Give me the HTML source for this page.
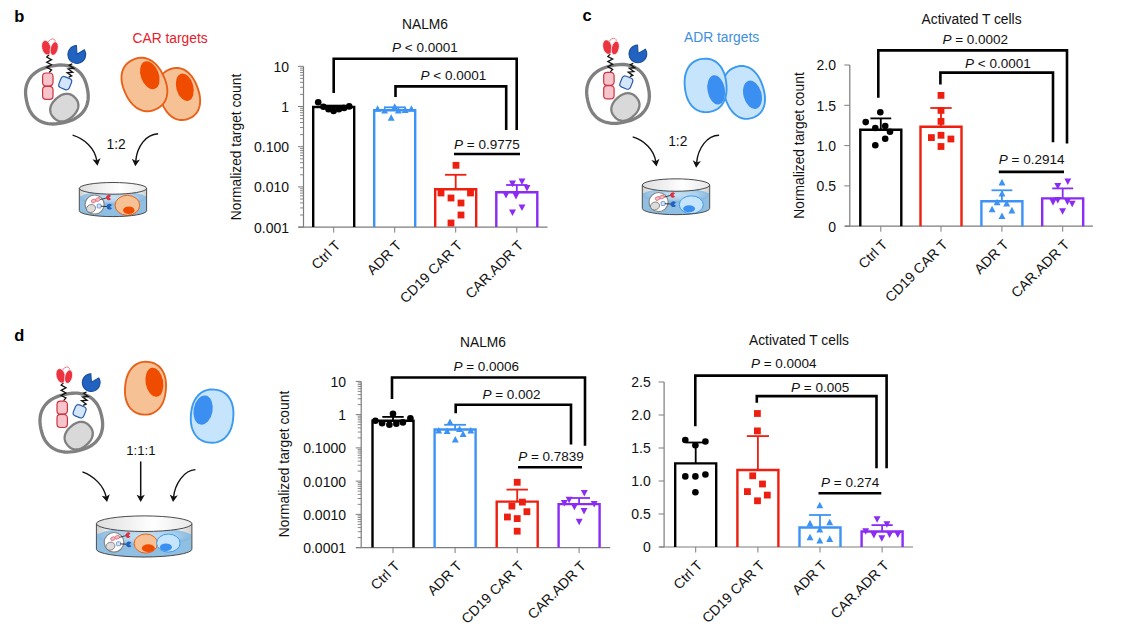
<!DOCTYPE html>
<html><head><meta charset="utf-8"><style>
html,body{margin:0;padding:0;background:#fff;overflow:hidden;width:1123px;height:631px;}
svg{display:block;font-family:"Liberation Sans", sans-serif;}
</style></head><body>
<svg width="1123" height="631" viewBox="0 0 1123 631">
<rect width="1123" height="631" fill="#fff"/>
<line x1="303.50" y1="66.30" x2="303.50" y2="227.10" stroke="#7c7c7c" stroke-width="1.2" />
<line x1="298.50" y1="227.10" x2="547.50" y2="227.10" stroke="#7c7c7c" stroke-width="1.2" />
<line x1="298.00" y1="66.30" x2="303.50" y2="66.30" stroke="#7c7c7c" stroke-width="1.0" />
<text x="289.00" y="71.70" font-size="14" text-anchor="end" fill="#111" >10</text>
<line x1="300.00" y1="94.40" x2="303.50" y2="94.40" stroke="#7c7c7c" stroke-width="0.9" />
<line x1="300.00" y1="87.32" x2="303.50" y2="87.32" stroke="#7c7c7c" stroke-width="0.9" />
<line x1="300.00" y1="82.30" x2="303.50" y2="82.30" stroke="#7c7c7c" stroke-width="0.9" />
<line x1="300.00" y1="78.40" x2="303.50" y2="78.40" stroke="#7c7c7c" stroke-width="0.9" />
<line x1="300.00" y1="75.22" x2="303.50" y2="75.22" stroke="#7c7c7c" stroke-width="0.9" />
<line x1="300.00" y1="72.53" x2="303.50" y2="72.53" stroke="#7c7c7c" stroke-width="0.9" />
<line x1="300.00" y1="70.20" x2="303.50" y2="70.20" stroke="#7c7c7c" stroke-width="0.9" />
<line x1="300.00" y1="68.14" x2="303.50" y2="68.14" stroke="#7c7c7c" stroke-width="0.9" />
<line x1="298.00" y1="106.50" x2="303.50" y2="106.50" stroke="#7c7c7c" stroke-width="1.0" />
<text x="289.00" y="111.90" font-size="14" text-anchor="end" fill="#111" >1</text>
<line x1="300.00" y1="134.60" x2="303.50" y2="134.60" stroke="#7c7c7c" stroke-width="0.9" />
<line x1="300.00" y1="127.52" x2="303.50" y2="127.52" stroke="#7c7c7c" stroke-width="0.9" />
<line x1="300.00" y1="122.50" x2="303.50" y2="122.50" stroke="#7c7c7c" stroke-width="0.9" />
<line x1="300.00" y1="118.60" x2="303.50" y2="118.60" stroke="#7c7c7c" stroke-width="0.9" />
<line x1="300.00" y1="115.42" x2="303.50" y2="115.42" stroke="#7c7c7c" stroke-width="0.9" />
<line x1="300.00" y1="112.73" x2="303.50" y2="112.73" stroke="#7c7c7c" stroke-width="0.9" />
<line x1="300.00" y1="110.40" x2="303.50" y2="110.40" stroke="#7c7c7c" stroke-width="0.9" />
<line x1="300.00" y1="108.34" x2="303.50" y2="108.34" stroke="#7c7c7c" stroke-width="0.9" />
<line x1="298.00" y1="146.70" x2="303.50" y2="146.70" stroke="#7c7c7c" stroke-width="1.0" />
<text x="289.00" y="152.10" font-size="14" text-anchor="end" fill="#111" >0.100</text>
<line x1="300.00" y1="174.80" x2="303.50" y2="174.80" stroke="#7c7c7c" stroke-width="0.9" />
<line x1="300.00" y1="167.72" x2="303.50" y2="167.72" stroke="#7c7c7c" stroke-width="0.9" />
<line x1="300.00" y1="162.70" x2="303.50" y2="162.70" stroke="#7c7c7c" stroke-width="0.9" />
<line x1="300.00" y1="158.80" x2="303.50" y2="158.80" stroke="#7c7c7c" stroke-width="0.9" />
<line x1="300.00" y1="155.62" x2="303.50" y2="155.62" stroke="#7c7c7c" stroke-width="0.9" />
<line x1="300.00" y1="152.93" x2="303.50" y2="152.93" stroke="#7c7c7c" stroke-width="0.9" />
<line x1="300.00" y1="150.60" x2="303.50" y2="150.60" stroke="#7c7c7c" stroke-width="0.9" />
<line x1="300.00" y1="148.54" x2="303.50" y2="148.54" stroke="#7c7c7c" stroke-width="0.9" />
<line x1="298.00" y1="186.90" x2="303.50" y2="186.90" stroke="#7c7c7c" stroke-width="1.0" />
<text x="289.00" y="192.30" font-size="14" text-anchor="end" fill="#111" >0.010</text>
<line x1="300.00" y1="215.00" x2="303.50" y2="215.00" stroke="#7c7c7c" stroke-width="0.9" />
<line x1="300.00" y1="207.92" x2="303.50" y2="207.92" stroke="#7c7c7c" stroke-width="0.9" />
<line x1="300.00" y1="202.90" x2="303.50" y2="202.90" stroke="#7c7c7c" stroke-width="0.9" />
<line x1="300.00" y1="199.00" x2="303.50" y2="199.00" stroke="#7c7c7c" stroke-width="0.9" />
<line x1="300.00" y1="195.82" x2="303.50" y2="195.82" stroke="#7c7c7c" stroke-width="0.9" />
<line x1="300.00" y1="193.13" x2="303.50" y2="193.13" stroke="#7c7c7c" stroke-width="0.9" />
<line x1="300.00" y1="190.80" x2="303.50" y2="190.80" stroke="#7c7c7c" stroke-width="0.9" />
<line x1="300.00" y1="188.74" x2="303.50" y2="188.74" stroke="#7c7c7c" stroke-width="0.9" />
<line x1="298.00" y1="227.10" x2="303.50" y2="227.10" stroke="#7c7c7c" stroke-width="1.0" />
<text x="289.00" y="232.50" font-size="14" text-anchor="end" fill="#111" >0.001</text>
<line x1="333.70" y1="227.10" x2="333.70" y2="232.60" stroke="#7c7c7c" stroke-width="1.0" />
<line x1="394.70" y1="227.10" x2="394.70" y2="232.60" stroke="#7c7c7c" stroke-width="1.0" />
<line x1="455.70" y1="227.10" x2="455.70" y2="232.60" stroke="#7c7c7c" stroke-width="1.0" />
<line x1="516.80" y1="227.10" x2="516.80" y2="232.60" stroke="#7c7c7c" stroke-width="1.0" />
<text x="241.00" y="147.00" font-size="13.8" text-anchor="middle" fill="#111" transform="rotate(-90 241.00 147.00)">Normalized target count</text>
<text x="425.00" y="29.40" font-size="13.8" text-anchor="middle" fill="#111" >NALM6</text>
<text x="341.30" y="246.30" font-size="14" text-anchor="end" fill="#111" transform="rotate(-45 341.30 246.30)">Ctrl T</text>
<text x="402.30" y="246.30" font-size="14" text-anchor="end" fill="#111" transform="rotate(-45 402.30 246.30)">ADR T</text>
<text x="463.30" y="246.30" font-size="14" text-anchor="end" fill="#111" transform="rotate(-45 463.30 246.30)">CD19 CAR T</text>
<text x="524.40" y="246.30" font-size="14" text-anchor="end" fill="#111" transform="rotate(-45 524.40 246.30)">CAR.ADR T</text>
<polyline points="333.70,93.00 333.70,58.80 516.70,58.80 516.70,130.00" fill="none" stroke="#000" stroke-width="2.6" stroke-linejoin="miter"/>
<polyline points="395.50,97.00 395.50,86.40 506.20,86.40 506.20,130.00" fill="none" stroke="#000" stroke-width="2.6" stroke-linejoin="miter"/>
<line x1="454.00" y1="154.00" x2="520.00" y2="154.00" stroke="#000" stroke-width="2.6" />
<text x="392.00" y="51.60" font-size="13.5" fill="#111"><tspan font-style="italic">P</tspan> &lt; 0.0001</text>
<text x="420.50" y="79.80" font-size="13.5" fill="#111"><tspan font-style="italic">P</tspan> &lt; 0.0001</text>
<text x="454.00" y="148.70" font-size="13.5" fill="#111"><tspan font-style="italic">P</tspan> = 0.9775</text>
<polyline points="313.20,227.10 313.20,107.00 354.20,107.00 354.20,227.10" fill="none" stroke="#000000" stroke-width="2.4" stroke-linejoin="miter"/>
<line x1="333.70" y1="107.00" x2="333.70" y2="105.60" stroke="#000000" stroke-width="1.8" />
<line x1="323.70" y1="105.60" x2="343.70" y2="105.60" stroke="#000000" stroke-width="1.8" />
<polyline points="374.20,227.10 374.20,110.20 415.20,110.20 415.20,227.10" fill="none" stroke="#3d93f4" stroke-width="2.4" stroke-linejoin="miter"/>
<polyline points="435.20,227.10 435.20,189.30 476.20,189.30 476.20,227.10" fill="none" stroke="#ee1e10" stroke-width="2.4" stroke-linejoin="miter"/>
<polyline points="496.30,227.10 496.30,192.20 537.30,192.20 537.30,227.10" fill="none" stroke="#8a2cf4" stroke-width="2.4" stroke-linejoin="miter"/>
<circle cx="318.20" cy="102.30" r="3.30" fill="#000000"/>
<circle cx="323.40" cy="106.80" r="3.30" fill="#000000"/>
<circle cx="328.50" cy="109.20" r="3.30" fill="#000000"/>
<circle cx="333.60" cy="111.00" r="3.30" fill="#000000"/>
<circle cx="338.90" cy="109.20" r="3.30" fill="#000000"/>
<circle cx="344.10" cy="107.90" r="3.30" fill="#000000"/>
<circle cx="349.20" cy="106.40" r="3.30" fill="#000000"/>
<line x1="394.70" y1="110.20" x2="394.70" y2="107.30" stroke="#3d93f4" stroke-width="1.8" />
<line x1="384.00" y1="107.30" x2="405.40" y2="107.30" stroke="#3d93f4" stroke-width="1.8" />
<polygon points="374.15,111.70 381.05,111.70 377.60,105.15" fill="#3d93f4"/>
<polygon points="381.15,113.51 388.05,113.51 384.60,106.95" fill="#3d93f4"/>
<polygon points="387.75,120.70 394.65,120.70 391.20,114.15" fill="#3d93f4"/>
<polygon points="391.25,109.70 398.15,109.70 394.70,103.15" fill="#3d93f4"/>
<polygon points="394.95,113.51 401.85,113.51 398.40,106.95" fill="#3d93f4"/>
<polygon points="401.75,112.91 408.65,112.91 405.20,106.35" fill="#3d93f4"/>
<polygon points="407.95,111.70 414.85,111.70 411.40,105.15" fill="#3d93f4"/>
<line x1="455.70" y1="189.30" x2="455.70" y2="174.80" stroke="#ee1e10" stroke-width="1.8" />
<line x1="445.00" y1="174.80" x2="466.40" y2="174.80" stroke="#ee1e10" stroke-width="1.8" />
<rect x="452.60" y="161.90" width="6.80" height="6.80" fill="#ee1e10"/>
<rect x="437.60" y="189.60" width="6.80" height="6.80" fill="#ee1e10"/>
<rect x="467.10" y="189.60" width="6.80" height="6.80" fill="#ee1e10"/>
<rect x="447.60" y="194.60" width="6.80" height="6.80" fill="#ee1e10"/>
<rect x="457.60" y="199.60" width="6.80" height="6.80" fill="#ee1e10"/>
<rect x="457.60" y="211.60" width="6.80" height="6.80" fill="#ee1e10"/>
<rect x="447.60" y="219.60" width="6.80" height="6.80" fill="#ee1e10"/>
<line x1="516.80" y1="192.20" x2="516.80" y2="185.00" stroke="#8a2cf4" stroke-width="1.8" />
<line x1="506.10" y1="185.00" x2="527.50" y2="185.00" stroke="#8a2cf4" stroke-width="1.8" />
<polygon points="509.05,180.59 515.95,180.59 512.50,187.15" fill="#8a2cf4"/>
<polygon points="518.55,178.40 525.45,178.40 522.00,184.95" fill="#8a2cf4"/>
<polygon points="523.55,184.90 530.45,184.90 527.00,191.45" fill="#8a2cf4"/>
<polygon points="502.55,191.90 509.45,191.90 506.00,198.45" fill="#8a2cf4"/>
<polygon points="512.55,192.90 519.45,192.90 516.00,199.45" fill="#8a2cf4"/>
<polygon points="518.55,204.40 525.45,204.40 522.00,210.95" fill="#8a2cf4"/>
<polygon points="509.05,209.40 515.95,209.40 512.50,215.95" fill="#8a2cf4"/>
<line x1="849.80" y1="65.00" x2="849.80" y2="226.20" stroke="#7c7c7c" stroke-width="1.2" />
<line x1="845.00" y1="226.20" x2="1093.00" y2="226.20" stroke="#7c7c7c" stroke-width="1.2" />
<line x1="844.30" y1="65.00" x2="849.80" y2="65.00" stroke="#7c7c7c" stroke-width="1.0" />
<text x="836.00" y="70.40" font-size="14" text-anchor="end" fill="#111" >2.0</text>
<line x1="844.30" y1="105.30" x2="849.80" y2="105.30" stroke="#7c7c7c" stroke-width="1.0" />
<text x="836.00" y="110.70" font-size="14" text-anchor="end" fill="#111" >1.5</text>
<line x1="844.30" y1="145.60" x2="849.80" y2="145.60" stroke="#7c7c7c" stroke-width="1.0" />
<text x="836.00" y="151.00" font-size="14" text-anchor="end" fill="#111" >1.0</text>
<line x1="844.30" y1="185.90" x2="849.80" y2="185.90" stroke="#7c7c7c" stroke-width="1.0" />
<text x="836.00" y="191.30" font-size="14" text-anchor="end" fill="#111" >0.5</text>
<line x1="844.30" y1="226.20" x2="849.80" y2="226.20" stroke="#7c7c7c" stroke-width="1.0" />
<text x="836.00" y="231.60" font-size="14" text-anchor="end" fill="#111" >0</text>
<line x1="880.80" y1="226.20" x2="880.80" y2="231.70" stroke="#7c7c7c" stroke-width="1.0" />
<line x1="941.00" y1="226.20" x2="941.00" y2="231.70" stroke="#7c7c7c" stroke-width="1.0" />
<line x1="1001.90" y1="226.20" x2="1001.90" y2="231.70" stroke="#7c7c7c" stroke-width="1.0" />
<line x1="1062.70" y1="226.20" x2="1062.70" y2="231.70" stroke="#7c7c7c" stroke-width="1.0" />
<text x="804.00" y="145.50" font-size="13.8" text-anchor="middle" fill="#111" transform="rotate(-90 804.00 145.50)">Normalized target count</text>
<text x="971.60" y="24.20" font-size="13.8" text-anchor="middle" fill="#111" >Activated T cells</text>
<text x="888.40" y="245.40" font-size="14" text-anchor="end" fill="#111" transform="rotate(-45 888.40 245.40)">Ctrl T</text>
<text x="948.60" y="245.40" font-size="14" text-anchor="end" fill="#111" transform="rotate(-45 948.60 245.40)">CD19 CAR T</text>
<text x="1009.50" y="245.40" font-size="14" text-anchor="end" fill="#111" transform="rotate(-45 1009.50 245.40)">ADR T</text>
<text x="1070.30" y="245.40" font-size="14" text-anchor="end" fill="#111" transform="rotate(-45 1070.30 245.40)">CAR.ADR T</text>
<polyline points="878.30,97.80 878.30,50.40 1067.00,50.40 1067.00,143.50" fill="none" stroke="#000" stroke-width="2.6" stroke-linejoin="miter"/>
<polyline points="940.40,84.50 940.40,72.60 1053.00,72.60 1053.00,142.20" fill="none" stroke="#000" stroke-width="2.6" stroke-linejoin="miter"/>
<line x1="998.80" y1="171.90" x2="1064.00" y2="171.90" stroke="#000" stroke-width="2.6" />
<text x="942.40" y="44.20" font-size="13.5" fill="#111"><tspan font-style="italic">P</tspan> = 0.0002</text>
<text x="965.00" y="68.40" font-size="13.5" fill="#111"><tspan font-style="italic">P</tspan> &lt; 0.0001</text>
<text x="998.80" y="163.60" font-size="13.5" fill="#111"><tspan font-style="italic">P</tspan> = 0.2914</text>
<polyline points="860.30,226.20 860.30,129.80 901.30,129.80 901.30,226.20" fill="none" stroke="#000000" stroke-width="2.4" stroke-linejoin="miter"/>
<polyline points="920.50,226.20 920.50,126.80 961.50,126.80 961.50,226.20" fill="none" stroke="#ee1e10" stroke-width="2.4" stroke-linejoin="miter"/>
<polyline points="981.40,226.20 981.40,201.20 1022.40,201.20 1022.40,226.20" fill="none" stroke="#3d93f4" stroke-width="2.4" stroke-linejoin="miter"/>
<polyline points="1042.20,226.20 1042.20,198.40 1083.20,198.40 1083.20,226.20" fill="none" stroke="#8a2cf4" stroke-width="2.4" stroke-linejoin="miter"/>
<line x1="880.80" y1="129.80" x2="880.80" y2="118.40" stroke="#000000" stroke-width="1.8" />
<line x1="870.40" y1="118.40" x2="891.20" y2="118.40" stroke="#000000" stroke-width="1.8" />
<circle cx="880.30" cy="112.30" r="3.30" fill="#000000"/>
<circle cx="865.70" cy="122.10" r="3.30" fill="#000000"/>
<circle cx="875.30" cy="128.00" r="3.30" fill="#000000"/>
<circle cx="885.20" cy="126.00" r="3.30" fill="#000000"/>
<circle cx="890.00" cy="131.70" r="3.30" fill="#000000"/>
<circle cx="885.20" cy="138.70" r="3.30" fill="#000000"/>
<circle cx="875.30" cy="145.20" r="3.30" fill="#000000"/>
<line x1="941.00" y1="126.80" x2="941.00" y2="108.00" stroke="#ee1e10" stroke-width="1.8" />
<line x1="930.30" y1="108.00" x2="951.70" y2="108.00" stroke="#ee1e10" stroke-width="1.8" />
<rect x="937.60" y="92.00" width="6.80" height="6.80" fill="#ee1e10"/>
<rect x="937.60" y="107.00" width="6.80" height="6.80" fill="#ee1e10"/>
<rect x="937.60" y="118.00" width="6.80" height="6.80" fill="#ee1e10"/>
<rect x="937.60" y="131.90" width="6.80" height="6.80" fill="#ee1e10"/>
<rect x="928.00" y="134.20" width="6.80" height="6.80" fill="#ee1e10"/>
<rect x="947.50" y="135.60" width="6.80" height="6.80" fill="#ee1e10"/>
<rect x="937.60" y="143.10" width="6.80" height="6.80" fill="#ee1e10"/>
<line x1="1001.90" y1="201.20" x2="1001.90" y2="190.30" stroke="#3d93f4" stroke-width="1.8" />
<line x1="991.50" y1="190.30" x2="1012.30" y2="190.30" stroke="#3d93f4" stroke-width="1.8" />
<polygon points="998.55,185.41 1005.45,185.41 1002.00,178.85" fill="#3d93f4"/>
<polygon points="998.55,196.50 1005.45,196.50 1002.00,189.95" fill="#3d93f4"/>
<polygon points="993.65,205.30 1000.55,205.30 997.10,198.75" fill="#3d93f4"/>
<polygon points="1003.25,206.41 1010.15,206.41 1006.70,199.85" fill="#3d93f4"/>
<polygon points="988.65,212.30 995.55,212.30 992.10,205.75" fill="#3d93f4"/>
<polygon points="1008.45,213.41 1015.35,213.41 1011.90,206.85" fill="#3d93f4"/>
<polygon points="998.55,219.00 1005.45,219.00 1002.00,212.45" fill="#3d93f4"/>
<line x1="1062.70" y1="198.40" x2="1062.70" y2="188.40" stroke="#8a2cf4" stroke-width="1.8" />
<line x1="1052.20" y1="188.40" x2="1073.20" y2="188.40" stroke="#8a2cf4" stroke-width="1.8" />
<polygon points="1064.35,178.50 1071.25,178.50 1067.80,185.05" fill="#8a2cf4"/>
<polygon points="1054.35,182.90 1061.25,182.90 1057.80,189.45" fill="#8a2cf4"/>
<polygon points="1054.35,197.00 1061.25,197.00 1057.80,203.55" fill="#8a2cf4"/>
<polygon points="1049.55,199.09 1056.45,199.09 1053.00,205.65" fill="#8a2cf4"/>
<polygon points="1063.95,198.59 1070.85,198.59 1067.40,205.15" fill="#8a2cf4"/>
<polygon points="1068.75,200.80 1075.65,200.80 1072.20,207.35" fill="#8a2cf4"/>
<polygon points="1059.15,208.20 1066.05,208.20 1062.60,214.75" fill="#8a2cf4"/>
<line x1="361.20" y1="381.40" x2="361.20" y2="547.60" stroke="#7c7c7c" stroke-width="1.2" />
<line x1="356.00" y1="547.60" x2="610.20" y2="547.60" stroke="#7c7c7c" stroke-width="1.2" />
<line x1="355.70" y1="381.40" x2="361.20" y2="381.40" stroke="#7c7c7c" stroke-width="1.0" />
<text x="346.00" y="386.80" font-size="14" text-anchor="end" fill="#111" >10</text>
<line x1="357.70" y1="404.63" x2="361.20" y2="404.63" stroke="#7c7c7c" stroke-width="0.9" />
<line x1="357.70" y1="398.78" x2="361.20" y2="398.78" stroke="#7c7c7c" stroke-width="0.9" />
<line x1="357.70" y1="394.63" x2="361.20" y2="394.63" stroke="#7c7c7c" stroke-width="0.9" />
<line x1="357.70" y1="391.41" x2="361.20" y2="391.41" stroke="#7c7c7c" stroke-width="0.9" />
<line x1="357.70" y1="388.77" x2="361.20" y2="388.77" stroke="#7c7c7c" stroke-width="0.9" />
<line x1="357.70" y1="386.55" x2="361.20" y2="386.55" stroke="#7c7c7c" stroke-width="0.9" />
<line x1="357.70" y1="384.62" x2="361.20" y2="384.62" stroke="#7c7c7c" stroke-width="0.9" />
<line x1="357.70" y1="382.92" x2="361.20" y2="382.92" stroke="#7c7c7c" stroke-width="0.9" />
<line x1="355.70" y1="414.64" x2="361.20" y2="414.64" stroke="#7c7c7c" stroke-width="1.0" />
<text x="346.00" y="420.04" font-size="14" text-anchor="end" fill="#111" >1</text>
<line x1="357.70" y1="437.87" x2="361.20" y2="437.87" stroke="#7c7c7c" stroke-width="0.9" />
<line x1="357.70" y1="432.02" x2="361.20" y2="432.02" stroke="#7c7c7c" stroke-width="0.9" />
<line x1="357.70" y1="427.87" x2="361.20" y2="427.87" stroke="#7c7c7c" stroke-width="0.9" />
<line x1="357.70" y1="424.65" x2="361.20" y2="424.65" stroke="#7c7c7c" stroke-width="0.9" />
<line x1="357.70" y1="422.01" x2="361.20" y2="422.01" stroke="#7c7c7c" stroke-width="0.9" />
<line x1="357.70" y1="419.79" x2="361.20" y2="419.79" stroke="#7c7c7c" stroke-width="0.9" />
<line x1="357.70" y1="417.86" x2="361.20" y2="417.86" stroke="#7c7c7c" stroke-width="0.9" />
<line x1="357.70" y1="416.16" x2="361.20" y2="416.16" stroke="#7c7c7c" stroke-width="0.9" />
<line x1="355.70" y1="447.88" x2="361.20" y2="447.88" stroke="#7c7c7c" stroke-width="1.0" />
<text x="346.00" y="453.28" font-size="14" text-anchor="end" fill="#111" >0.1000</text>
<line x1="357.70" y1="471.11" x2="361.20" y2="471.11" stroke="#7c7c7c" stroke-width="0.9" />
<line x1="357.70" y1="465.26" x2="361.20" y2="465.26" stroke="#7c7c7c" stroke-width="0.9" />
<line x1="357.70" y1="461.11" x2="361.20" y2="461.11" stroke="#7c7c7c" stroke-width="0.9" />
<line x1="357.70" y1="457.89" x2="361.20" y2="457.89" stroke="#7c7c7c" stroke-width="0.9" />
<line x1="357.70" y1="455.25" x2="361.20" y2="455.25" stroke="#7c7c7c" stroke-width="0.9" />
<line x1="357.70" y1="453.03" x2="361.20" y2="453.03" stroke="#7c7c7c" stroke-width="0.9" />
<line x1="357.70" y1="451.10" x2="361.20" y2="451.10" stroke="#7c7c7c" stroke-width="0.9" />
<line x1="357.70" y1="449.40" x2="361.20" y2="449.40" stroke="#7c7c7c" stroke-width="0.9" />
<line x1="355.70" y1="481.12" x2="361.20" y2="481.12" stroke="#7c7c7c" stroke-width="1.0" />
<text x="346.00" y="486.52" font-size="14" text-anchor="end" fill="#111" >0.0100</text>
<line x1="357.70" y1="504.35" x2="361.20" y2="504.35" stroke="#7c7c7c" stroke-width="0.9" />
<line x1="357.70" y1="498.50" x2="361.20" y2="498.50" stroke="#7c7c7c" stroke-width="0.9" />
<line x1="357.70" y1="494.35" x2="361.20" y2="494.35" stroke="#7c7c7c" stroke-width="0.9" />
<line x1="357.70" y1="491.13" x2="361.20" y2="491.13" stroke="#7c7c7c" stroke-width="0.9" />
<line x1="357.70" y1="488.49" x2="361.20" y2="488.49" stroke="#7c7c7c" stroke-width="0.9" />
<line x1="357.70" y1="486.27" x2="361.20" y2="486.27" stroke="#7c7c7c" stroke-width="0.9" />
<line x1="357.70" y1="484.34" x2="361.20" y2="484.34" stroke="#7c7c7c" stroke-width="0.9" />
<line x1="357.70" y1="482.64" x2="361.20" y2="482.64" stroke="#7c7c7c" stroke-width="0.9" />
<line x1="355.70" y1="514.36" x2="361.20" y2="514.36" stroke="#7c7c7c" stroke-width="1.0" />
<text x="346.00" y="519.76" font-size="14" text-anchor="end" fill="#111" >0.0010</text>
<line x1="357.70" y1="537.59" x2="361.20" y2="537.59" stroke="#7c7c7c" stroke-width="0.9" />
<line x1="357.70" y1="531.74" x2="361.20" y2="531.74" stroke="#7c7c7c" stroke-width="0.9" />
<line x1="357.70" y1="527.59" x2="361.20" y2="527.59" stroke="#7c7c7c" stroke-width="0.9" />
<line x1="357.70" y1="524.37" x2="361.20" y2="524.37" stroke="#7c7c7c" stroke-width="0.9" />
<line x1="357.70" y1="521.73" x2="361.20" y2="521.73" stroke="#7c7c7c" stroke-width="0.9" />
<line x1="357.70" y1="519.51" x2="361.20" y2="519.51" stroke="#7c7c7c" stroke-width="0.9" />
<line x1="357.70" y1="517.58" x2="361.20" y2="517.58" stroke="#7c7c7c" stroke-width="0.9" />
<line x1="357.70" y1="515.88" x2="361.20" y2="515.88" stroke="#7c7c7c" stroke-width="0.9" />
<line x1="355.70" y1="547.60" x2="361.20" y2="547.60" stroke="#7c7c7c" stroke-width="1.0" />
<text x="346.00" y="553.00" font-size="14" text-anchor="end" fill="#111" >0.0001</text>
<line x1="393.00" y1="547.60" x2="393.00" y2="553.10" stroke="#7c7c7c" stroke-width="1.0" />
<line x1="455.10" y1="547.60" x2="455.10" y2="553.10" stroke="#7c7c7c" stroke-width="1.0" />
<line x1="517.20" y1="547.60" x2="517.20" y2="553.10" stroke="#7c7c7c" stroke-width="1.0" />
<line x1="579.10" y1="547.60" x2="579.10" y2="553.10" stroke="#7c7c7c" stroke-width="1.0" />
<text x="288.50" y="464.00" font-size="13.8" text-anchor="middle" fill="#111" transform="rotate(-90 288.50 464.00)">Normalized target count</text>
<text x="483.00" y="347.40" font-size="13.8" text-anchor="middle" fill="#111" >NALM6</text>
<text x="400.60" y="566.80" font-size="14" text-anchor="end" fill="#111" transform="rotate(-45 400.60 566.80)">Ctrl T</text>
<text x="462.70" y="566.80" font-size="14" text-anchor="end" fill="#111" transform="rotate(-45 462.70 566.80)">ADR T</text>
<text x="524.80" y="566.80" font-size="14" text-anchor="end" fill="#111" transform="rotate(-45 524.80 566.80)">CD19 CAR T</text>
<text x="586.70" y="566.80" font-size="14" text-anchor="end" fill="#111" transform="rotate(-45 586.70 566.80)">CAR.ADR T</text>
<polyline points="392.00,399.00 392.00,377.50 585.00,377.50 585.00,445.70" fill="none" stroke="#000" stroke-width="2.6" stroke-linejoin="miter"/>
<polyline points="455.70,413.30 455.70,404.80 571.00,404.80 571.00,444.60" fill="none" stroke="#000" stroke-width="2.6" stroke-linejoin="miter"/>
<line x1="518.00" y1="467.30" x2="582.00" y2="467.30" stroke="#000" stroke-width="2.6" />
<text x="453.40" y="370.50" font-size="13.5" fill="#111"><tspan font-style="italic">P</tspan> = 0.0006</text>
<text x="482.40" y="399.40" font-size="13.5" fill="#111"><tspan font-style="italic">P</tspan> = 0.002</text>
<text x="518.20" y="460.80" font-size="13.5" fill="#111"><tspan font-style="italic">P</tspan> = 0.7839</text>
<polyline points="372.50,547.60 372.50,420.70 413.50,420.70 413.50,547.60" fill="none" stroke="#000000" stroke-width="2.4" stroke-linejoin="miter"/>
<polyline points="434.60,547.60 434.60,429.50 475.60,429.50 475.60,547.60" fill="none" stroke="#3d93f4" stroke-width="2.4" stroke-linejoin="miter"/>
<polyline points="496.70,547.60 496.70,501.60 537.70,501.60 537.70,547.60" fill="none" stroke="#ee1e10" stroke-width="2.4" stroke-linejoin="miter"/>
<polyline points="558.60,547.60 558.60,504.10 599.60,504.10 599.60,547.60" fill="none" stroke="#8a2cf4" stroke-width="2.4" stroke-linejoin="miter"/>
<line x1="393.00" y1="420.70" x2="393.00" y2="416.90" stroke="#000000" stroke-width="1.8" />
<line x1="382.30" y1="416.90" x2="403.70" y2="416.90" stroke="#000000" stroke-width="1.8" />
<circle cx="393.00" cy="413.70" r="3.30" fill="#000000"/>
<circle cx="375.40" cy="420.80" r="3.30" fill="#000000"/>
<circle cx="382.10" cy="423.30" r="3.30" fill="#000000"/>
<circle cx="389.40" cy="424.80" r="3.30" fill="#000000"/>
<circle cx="396.30" cy="423.70" r="3.30" fill="#000000"/>
<circle cx="402.90" cy="422.40" r="3.30" fill="#000000"/>
<circle cx="410.40" cy="418.20" r="3.30" fill="#000000"/>
<line x1="455.10" y1="429.50" x2="455.10" y2="424.80" stroke="#3d93f4" stroke-width="1.8" />
<line x1="444.20" y1="424.80" x2="466.00" y2="424.80" stroke="#3d93f4" stroke-width="1.8" />
<polygon points="446.55,425.00 453.45,425.00 450.00,418.45" fill="#3d93f4"/>
<polygon points="435.25,433.61 442.15,433.61 438.70,427.05" fill="#3d93f4"/>
<polygon points="443.65,434.11 450.55,434.11 447.10,427.55" fill="#3d93f4"/>
<polygon points="456.15,432.00 463.05,432.00 459.60,425.45" fill="#3d93f4"/>
<polygon points="459.65,437.11 466.55,437.11 463.10,430.55" fill="#3d93f4"/>
<polygon points="467.35,433.61 474.25,433.61 470.80,427.05" fill="#3d93f4"/>
<polygon points="451.85,442.61 458.75,442.61 455.30,436.05" fill="#3d93f4"/>
<line x1="517.20" y1="501.60" x2="517.20" y2="489.60" stroke="#ee1e10" stroke-width="1.8" />
<line x1="506.50" y1="489.60" x2="527.90" y2="489.60" stroke="#ee1e10" stroke-width="1.8" />
<rect x="513.80" y="478.90" width="6.80" height="6.80" fill="#ee1e10"/>
<rect x="519.00" y="498.70" width="6.80" height="6.80" fill="#ee1e10"/>
<rect x="508.50" y="502.70" width="6.80" height="6.80" fill="#ee1e10"/>
<rect x="523.50" y="508.30" width="6.80" height="6.80" fill="#ee1e10"/>
<rect x="504.00" y="513.60" width="6.80" height="6.80" fill="#ee1e10"/>
<rect x="513.80" y="515.20" width="6.80" height="6.80" fill="#ee1e10"/>
<rect x="513.80" y="527.80" width="6.80" height="6.80" fill="#ee1e10"/>
<line x1="579.10" y1="504.10" x2="579.10" y2="498.00" stroke="#8a2cf4" stroke-width="1.8" />
<line x1="568.20" y1="498.00" x2="590.00" y2="498.00" stroke="#8a2cf4" stroke-width="1.8" />
<polygon points="580.85,489.89 587.75,489.89 584.30,496.45" fill="#8a2cf4"/>
<polygon points="565.65,496.79 572.55,496.79 569.10,503.35" fill="#8a2cf4"/>
<polygon points="560.85,500.00 567.75,500.00 564.30,506.55" fill="#8a2cf4"/>
<polygon points="590.75,500.89 597.65,500.89 594.20,507.45" fill="#8a2cf4"/>
<polygon points="570.95,503.79 577.85,503.79 574.40,510.35" fill="#8a2cf4"/>
<polygon points="580.55,508.00 587.45,508.00 584.00,514.55" fill="#8a2cf4"/>
<polygon points="575.75,518.69 582.65,518.69 579.20,525.25" fill="#8a2cf4"/>
<line x1="664.10" y1="382.00" x2="664.10" y2="547.00" stroke="#7c7c7c" stroke-width="1.2" />
<line x1="659.50" y1="547.00" x2="913.10" y2="547.00" stroke="#7c7c7c" stroke-width="1.2" />
<line x1="658.60" y1="382.00" x2="664.10" y2="382.00" stroke="#7c7c7c" stroke-width="1.0" />
<text x="650.70" y="387.40" font-size="14" text-anchor="end" fill="#111" >2.5</text>
<line x1="658.60" y1="415.00" x2="664.10" y2="415.00" stroke="#7c7c7c" stroke-width="1.0" />
<text x="650.70" y="420.40" font-size="14" text-anchor="end" fill="#111" >2.0</text>
<line x1="658.60" y1="448.00" x2="664.10" y2="448.00" stroke="#7c7c7c" stroke-width="1.0" />
<text x="650.70" y="453.40" font-size="14" text-anchor="end" fill="#111" >1.5</text>
<line x1="658.60" y1="481.00" x2="664.10" y2="481.00" stroke="#7c7c7c" stroke-width="1.0" />
<text x="650.70" y="486.40" font-size="14" text-anchor="end" fill="#111" >1.0</text>
<line x1="658.60" y1="514.00" x2="664.10" y2="514.00" stroke="#7c7c7c" stroke-width="1.0" />
<text x="650.70" y="519.40" font-size="14" text-anchor="end" fill="#111" >0.5</text>
<line x1="658.60" y1="547.00" x2="664.10" y2="547.00" stroke="#7c7c7c" stroke-width="1.0" />
<text x="650.70" y="552.40" font-size="14" text-anchor="end" fill="#111" >0</text>
<line x1="695.70" y1="547.00" x2="695.70" y2="552.50" stroke="#7c7c7c" stroke-width="1.0" />
<line x1="757.90" y1="547.00" x2="757.90" y2="552.50" stroke="#7c7c7c" stroke-width="1.0" />
<line x1="820.00" y1="547.00" x2="820.00" y2="552.50" stroke="#7c7c7c" stroke-width="1.0" />
<line x1="882.10" y1="547.00" x2="882.10" y2="552.50" stroke="#7c7c7c" stroke-width="1.0" />
<text x="799.00" y="344.60" font-size="13.8" text-anchor="middle" fill="#111" >Activated T cells</text>
<text x="703.30" y="566.20" font-size="14" text-anchor="end" fill="#111" transform="rotate(-45 703.30 566.20)">Ctrl T</text>
<text x="765.50" y="566.20" font-size="14" text-anchor="end" fill="#111" transform="rotate(-45 765.50 566.20)">CD19 CAR T</text>
<text x="827.60" y="566.20" font-size="14" text-anchor="end" fill="#111" transform="rotate(-45 827.60 566.20)">ADR T</text>
<text x="889.70" y="566.20" font-size="14" text-anchor="end" fill="#111" transform="rotate(-45 889.70 566.20)">CAR.ADR T</text>
<polyline points="695.30,426.30 695.30,375.60 886.60,375.60 886.60,468.20" fill="none" stroke="#000" stroke-width="2.6" stroke-linejoin="miter"/>
<polyline points="756.80,402.80 756.80,396.10 876.50,396.10 876.50,468.20" fill="none" stroke="#000" stroke-width="2.6" stroke-linejoin="miter"/>
<line x1="818.50" y1="493.30" x2="881.30" y2="493.30" stroke="#000" stroke-width="2.6" />
<text x="750.90" y="367.60" font-size="13.5" fill="#111"><tspan font-style="italic">P</tspan> = 0.0004</text>
<text x="791.00" y="391.60" font-size="13.5" fill="#111"><tspan font-style="italic">P</tspan> = 0.005</text>
<text x="821.00" y="487.40" font-size="13.5" fill="#111"><tspan font-style="italic">P</tspan> = 0.274</text>
<polyline points="675.20,547.00 675.20,463.40 716.20,463.40 716.20,547.00" fill="none" stroke="#000000" stroke-width="2.4" stroke-linejoin="miter"/>
<polyline points="737.40,547.00 737.40,470.00 778.40,470.00 778.40,547.00" fill="none" stroke="#ee1e10" stroke-width="2.4" stroke-linejoin="miter"/>
<polyline points="799.50,547.00 799.50,527.50 840.50,527.50 840.50,547.00" fill="none" stroke="#3d93f4" stroke-width="2.4" stroke-linejoin="miter"/>
<polyline points="861.60,547.00 861.60,531.50 902.60,531.50 902.60,547.00" fill="none" stroke="#8a2cf4" stroke-width="2.4" stroke-linejoin="miter"/>
<line x1="695.70" y1="463.40" x2="695.70" y2="442.50" stroke="#000000" stroke-width="1.8" />
<line x1="685.80" y1="442.50" x2="705.60" y2="442.50" stroke="#000000" stroke-width="1.8" />
<circle cx="685.30" cy="440.00" r="3.30" fill="#000000"/>
<circle cx="705.40" cy="441.50" r="3.30" fill="#000000"/>
<circle cx="695.40" cy="445.20" r="3.30" fill="#000000"/>
<circle cx="685.30" cy="476.40" r="3.30" fill="#000000"/>
<circle cx="695.40" cy="476.40" r="3.30" fill="#000000"/>
<circle cx="705.40" cy="474.50" r="3.30" fill="#000000"/>
<circle cx="695.40" cy="492.30" r="3.30" fill="#000000"/>
<line x1="757.90" y1="470.00" x2="757.90" y2="436.10" stroke="#ee1e10" stroke-width="1.8" />
<line x1="746.80" y1="436.10" x2="769.00" y2="436.10" stroke="#ee1e10" stroke-width="1.8" />
<rect x="754.00" y="410.10" width="6.80" height="6.80" fill="#ee1e10"/>
<rect x="754.00" y="427.50" width="6.80" height="6.80" fill="#ee1e10"/>
<rect x="749.30" y="472.40" width="6.80" height="6.80" fill="#ee1e10"/>
<rect x="759.10" y="480.60" width="6.80" height="6.80" fill="#ee1e10"/>
<rect x="744.00" y="488.20" width="6.80" height="6.80" fill="#ee1e10"/>
<rect x="763.90" y="491.70" width="6.80" height="6.80" fill="#ee1e10"/>
<rect x="754.10" y="497.40" width="6.80" height="6.80" fill="#ee1e10"/>
<line x1="820.00" y1="527.50" x2="820.00" y2="515.00" stroke="#3d93f4" stroke-width="1.8" />
<line x1="809.10" y1="515.00" x2="830.90" y2="515.00" stroke="#3d93f4" stroke-width="1.8" />
<polygon points="816.35,508.31 823.25,508.31 819.80,501.75" fill="#3d93f4"/>
<polygon points="806.55,526.40 813.45,526.40 810.00,519.85" fill="#3d93f4"/>
<polygon points="826.25,525.31 833.15,525.31 829.70,518.75" fill="#3d93f4"/>
<polygon points="816.35,532.50 823.25,532.50 819.80,525.95" fill="#3d93f4"/>
<polygon points="806.55,540.31 813.45,540.31 810.00,533.75" fill="#3d93f4"/>
<polygon points="816.35,543.50 823.25,543.50 819.80,536.95" fill="#3d93f4"/>
<polygon points="826.25,541.90 833.15,541.90 829.70,535.35" fill="#3d93f4"/>
<line x1="882.10" y1="531.50" x2="882.10" y2="525.10" stroke="#8a2cf4" stroke-width="1.8" />
<line x1="871.50" y1="525.10" x2="892.70" y2="525.10" stroke="#8a2cf4" stroke-width="1.8" />
<polygon points="873.65,516.29 880.55,516.29 877.10,522.85" fill="#8a2cf4"/>
<polygon points="883.45,521.29 890.35,521.29 886.90,527.85" fill="#8a2cf4"/>
<polygon points="862.25,528.19 869.15,528.19 865.70,534.75" fill="#8a2cf4"/>
<polygon points="870.45,532.00 877.35,532.00 873.90,538.55" fill="#8a2cf4"/>
<polygon points="886.15,531.39 893.05,531.39 889.60,537.95" fill="#8a2cf4"/>
<polygon points="894.35,531.39 901.25,531.39 897.80,537.95" fill="#8a2cf4"/>
<polygon points="878.35,535.19 885.25,535.19 881.80,541.75" fill="#8a2cf4"/>
<g transform="translate(57.20,92.90) scale(1.0)">
<path d="M30.02,-4.85 L30.68,-1.28 L30.98,1.61 L31.04,4.29 L30.87,6.83 L30.47,9.25 L29.86,11.57 L29.03,13.77 L27.99,15.87 L26.75,17.85 L25.31,19.71 L23.66,21.44 L21.83,23.04 L19.79,24.50 L17.57,25.82 L15.13,27.01 L12.46,28.05 L9.49,28.97 L5.71,29.87 L1.89,30.58 L-1.20,30.96 L-4.06,31.09 L-6.77,31.00 L-9.34,30.69 L-11.79,30.18 L-14.12,29.47 L-16.33,28.56 L-18.40,27.45 L-20.34,26.14 L-22.14,24.65 L-23.80,22.97 L-25.30,21.11 L-26.65,19.06 L-27.84,16.81 L-28.88,14.33 L-29.77,11.57 L-30.62,8.05 L-31.28,4.48 L-31.58,1.59 L-31.64,-1.09 L-31.47,-3.63 L-31.07,-6.05 L-30.46,-8.37 L-29.63,-10.57 L-28.59,-12.67 L-27.35,-14.65 L-25.91,-16.51 L-24.26,-18.24 L-22.43,-19.84 L-20.39,-21.30 L-18.17,-22.62 L-15.73,-23.81 L-13.06,-24.85 L-10.09,-25.77 L-6.31,-26.67 L-2.49,-27.38 L0.60,-27.76 L3.46,-27.89 L6.17,-27.80 L8.74,-27.49 L11.19,-26.98 L13.52,-26.27 L15.73,-25.36 L17.80,-24.25 L19.74,-22.94 L21.54,-21.45 L23.20,-19.77 L24.70,-17.91 L26.05,-15.86 L27.24,-13.61 L28.28,-11.13 L29.17,-8.37 Z" fill="#fff" stroke="#808080" stroke-width="3.3"/>
<path d="M17.95,4.93 L18.88,6.03 L19.56,7.01 L20.11,7.97 L20.54,8.95 L20.86,9.95 L21.07,10.96 L21.17,11.99 L21.17,13.02 L21.07,14.07 L20.86,15.12 L20.54,16.17 L20.12,17.22 L19.60,18.27 L18.98,19.31 L18.24,20.34 L17.39,21.37 L16.40,22.42 L15.13,23.62 L13.80,24.76 L12.66,25.63 L11.54,26.37 L10.44,26.99 L9.34,27.51 L8.25,27.92 L7.16,28.22 L6.08,28.43 L5.01,28.52 L3.96,28.52 L2.93,28.41 L1.92,28.20 L0.94,27.89 L-0.02,27.46 L-0.95,26.93 L-1.85,26.29 L-2.75,25.51 L-3.75,24.47 L-4.68,23.37 L-5.36,22.39 L-5.91,21.43 L-6.34,20.45 L-6.66,19.45 L-6.87,18.44 L-6.97,17.41 L-6.97,16.38 L-6.87,15.33 L-6.66,14.28 L-6.34,13.23 L-5.92,12.18 L-5.40,11.13 L-4.78,10.09 L-4.04,9.06 L-3.19,8.03 L-2.20,6.98 L-0.93,5.78 L0.40,4.64 L1.54,3.77 L2.66,3.03 L3.76,2.41 L4.86,1.89 L5.95,1.48 L7.04,1.18 L8.12,0.97 L9.19,0.88 L10.24,0.88 L11.27,0.99 L12.28,1.20 L13.26,1.51 L14.22,1.94 L15.15,2.47 L16.05,3.11 L16.95,3.89 Z" fill="#d9d9d9" stroke="#808080" stroke-width="2.3"/>
<polyline points="-8.05,-38.40 -10.45,-35.83 -5.65,-33.26 -10.45,-30.69 -5.65,-28.11 -10.45,-25.54 -5.65,-22.97 -8.05,-20.40" fill="none" stroke="#111" stroke-width="1.3"/>
<rect x="-14.6" y="-19.9" width="10.4" height="13.0" rx="3.4" fill="#f6c5cc" stroke="#cc3340" stroke-width="1.2"/>
<rect x="-14.6" y="-6.6" width="10.4" height="13.1" rx="3.4" fill="#f6c5cc" stroke="#cc3340" stroke-width="1.2"/>
<ellipse cx="-6.6" cy="-47.6" rx="4.0" ry="7.0" transform="rotate(28 -6.6 -47.6)" fill="none" stroke="#ea6a74" stroke-width="0.8"/>
<ellipse cx="-10.9" cy="-45.2" rx="4.4" ry="7.3" transform="rotate(-14 -10.9 -45.2)" fill="#ec3340" stroke="#fff" stroke-width="0.4"/>
<ellipse cx="-3.0" cy="-44.3" rx="3.8" ry="6.9" transform="rotate(14 -3.0 -44.3)" fill="#ec3340" stroke="#fff" stroke-width="0.7"/>
<polyline points="15.00,-29.00 11.99,-27.76 16.51,-24.54 10.99,-23.96 15.51,-20.74 9.99,-20.16 14.51,-16.94 11.50,-15.70" fill="none" stroke="#111" stroke-width="1.3"/>
<rect x="2.4" y="-15.6" width="11.2" height="11.8" rx="3.2" transform="rotate(22 8 -9.7)" fill="#d4e6fb" stroke="#2c5cb0" stroke-width="1.2"/>
<path d="M19.60,-38.84 L15.15,-46.11 A8.9,8.9 0 1 0 24.05,-46.11 Z" fill="#2262c0" stroke="#1a4b98" stroke-width="1.0" transform="rotate(28 19.60 -38.40)"/>
</g>
<path d="M197.43,87.36 L198.40,90.22 L199.09,92.69 L199.59,95.03 L199.93,97.28 L200.10,99.46 L200.12,101.56 L199.98,103.58 L199.68,105.51 L199.23,107.35 L198.63,109.10 L197.88,110.73 L196.99,112.25 L195.95,113.64 L194.77,114.92 L193.44,116.06 L191.95,117.07 L190.28,117.97 L188.23,118.81 L186.12,119.48 L184.26,119.87 L182.47,120.05 L180.72,120.03 L179.00,119.82 L177.30,119.41 L175.64,118.83 L174.02,118.05 L172.44,117.11 L170.91,115.98 L169.44,114.69 L168.03,113.24 L166.70,111.62 L165.43,109.84 L164.24,107.90 L163.12,105.78 L162.06,103.45 L160.97,100.64 L160.00,97.78 L159.31,95.31 L158.81,92.97 L158.47,90.72 L158.30,88.54 L158.28,86.44 L158.42,84.42 L158.72,82.49 L159.17,80.65 L159.77,78.90 L160.52,77.27 L161.41,75.75 L162.45,74.36 L163.63,73.08 L164.96,71.94 L166.45,70.93 L168.12,70.03 L170.17,69.19 L172.28,68.52 L174.14,68.13 L175.93,67.95 L177.68,67.97 L179.40,68.18 L181.10,68.59 L182.76,69.17 L184.38,69.95 L185.96,70.89 L187.49,72.02 L188.96,73.31 L190.37,74.76 L191.70,76.38 L192.97,78.16 L194.16,80.10 L195.28,82.22 L196.34,84.55 Z" fill="#f6c295" stroke="#e8611a" stroke-width="1.9"/><ellipse cx="184.80" cy="87.20" rx="8.5" ry="14" transform="rotate(-15 184.80 87.20)" fill="#ef4c00"/>
<path d="M163.34,75.67 L164.60,78.53 L165.52,81.01 L166.24,83.38 L166.77,85.68 L167.12,87.91 L167.30,90.09 L167.30,92.20 L167.14,94.23 L166.80,96.19 L166.29,98.06 L165.62,99.83 L164.78,101.50 L163.78,103.06 L162.62,104.51 L161.28,105.83 L159.78,107.04 L158.06,108.15 L155.94,109.24 L153.73,110.17 L151.79,110.77 L149.89,111.15 L148.02,111.31 L146.16,111.28 L144.32,111.04 L142.51,110.61 L140.72,109.99 L138.96,109.17 L137.24,108.17 L135.58,106.99 L133.96,105.63 L132.41,104.10 L130.92,102.39 L129.50,100.51 L128.15,98.43 L126.84,96.13 L125.46,93.33 L124.20,90.47 L123.28,87.99 L122.56,85.62 L122.03,83.32 L121.68,81.09 L121.50,78.91 L121.50,76.80 L121.66,74.77 L122.00,72.81 L122.51,70.94 L123.18,69.17 L124.02,67.50 L125.02,65.94 L126.18,64.49 L127.52,63.17 L129.02,61.96 L130.74,60.85 L132.86,59.76 L135.07,58.83 L137.01,58.23 L138.91,57.85 L140.78,57.69 L142.64,57.72 L144.48,57.96 L146.29,58.39 L148.08,59.01 L149.84,59.83 L151.56,60.83 L153.22,62.01 L154.84,63.37 L156.39,64.90 L157.88,66.61 L159.30,68.49 L160.65,70.57 L161.96,72.87 Z" fill="#f6c295" stroke="#e8611a" stroke-width="1.9"/><ellipse cx="149.80" cy="75.20" rx="9" ry="14.5" transform="rotate(-20 149.80 75.20)" fill="#ef4c00"/>
<text x="132.5" y="42.7" font-size="13.8" fill="#e8202a">CAR targets</text>
<text x="106.6" y="148.9" font-size="13.8" fill="#111">1:2</text>
<path d="M72.60,135.10 C84.00,138.50 95.00,148.00 96.80,160.85" fill="none" stroke="#111" stroke-width="1.4"/><polygon points="97.50,165.80 92.44,159.24 96.75,160.45 100.56,158.10" fill="#111"/>
<path d="M158.10,133.80 C146.00,134.50 137.00,146.00 135.72,161.32" fill="none" stroke="#111" stroke-width="1.4"/><polygon points="135.30,166.30 131.82,158.78 135.75,160.92 139.99,159.47" fill="#111"/>
<defs><linearGradient id="lidb" x1="0" y1="0" x2="1" y2="0"><stop offset="0" stop-color="#dedede"/><stop offset="0.6" stop-color="#ffffff"/><stop offset="1" stop-color="#e8e8e8"/></linearGradient><radialGradient id="watb" cx="0.5" cy="0.45" r="0.55"><stop offset="0" stop-color="#c6e0f3"/><stop offset="0.55" stop-color="#b0d3ec"/><stop offset="1" stop-color="#7fb3dc"/></radialGradient><linearGradient id="walb" x1="0" y1="0" x2="1" y2="0"><stop offset="0" stop-color="#cfcfcf"/><stop offset="0.15" stop-color="#f2f2f2"/><stop offset="0.85" stop-color="#f2f2f2"/><stop offset="1" stop-color="#cfcfcf"/></linearGradient></defs>
<path d="M79.30,188.35 L79.30,210.75 A33.65,5.85 0 0 0 146.60,210.75 L146.60,188.35 Z" fill="url(#walb)" stroke="none"/>
<path d="M79.90,202.68 L79.90,210.75 A33.05,5.85 0 0 0 146.00,210.75 L146.00,202.68 Z" fill="#8ebfe2"/>
<path d="M79.90,195.95 L79.90,206.72 A33.05,6.727499999999999 0 0 0 146.00,206.72 L146.00,195.95 Z" fill="#8fbfe2"/>
<ellipse cx="112.95" cy="197.97" rx="33.05" ry="6.73" fill="url(#watb)"/>
<circle cx="94.60" cy="204.60" r="9.6" fill="#fff" stroke="#858585" stroke-width="1.2"/>
<ellipse cx="91.00" cy="208.50" rx="4.6" ry="3.9" transform="rotate(-20 91.00 208.50)" fill="#dcdcdc" stroke="#777" stroke-width="0.8"/>
<rect x="91.40" y="199.40" width="4.2" height="3.2" rx="0.9" transform="rotate(-22 93.50 201.00)" fill="#f3b8c0" stroke="#d86070" stroke-width="0.7"/>
<rect x="95.80" y="197.90" width="4.2" height="3.2" rx="0.9" transform="rotate(-22 97.90 199.50)" fill="#f3b8c0" stroke="#d86070" stroke-width="0.7"/>
<line x1="100.20" y1="199.60" x2="106.60" y2="197.90" stroke="#222" stroke-width="0.8"/>
<rect x="97.20" y="204.10" width="3.9" height="3.9" rx="0.8" fill="#d5e8fb" stroke="#4a78c8" stroke-width="0.7"/>
<line x1="100.90" y1="206.20" x2="107.10" y2="206.50" stroke="#222" stroke-width="0.9"/>
<path d="M108.80,197.11 L107.42,195.30 A2.6,2.6 0 1 0 110.18,195.30 Z" fill="#e03040" stroke="none" stroke-width="0" transform="rotate(90 108.80 197.50)"/>
<path d="M109.50,206.26 L107.96,204.24 A2.9,2.9 0 1 0 111.04,204.24 Z" fill="#2160bd" stroke="none" stroke-width="0" transform="rotate(90 109.50 206.70)"/><ellipse cx="127.40" cy="205.30" rx="12.3" ry="10" fill="#f6c295" stroke="#e8611a" stroke-width="1"/><ellipse cx="128.80" cy="210.30" rx="5.7" ry="3.8" fill="#ef4c00"/>
<ellipse cx="112.95" cy="188.35" rx="33.65" ry="5.85" fill="url(#lidb)" stroke="#4a4a4a" stroke-width="1"/>
<path d="M79.30,188.35 L79.30,210.75 A33.65,5.85 0 0 0 146.60,210.75 L146.60,188.35" fill="none" stroke="#4a4a4a" stroke-width="1"/>
<g transform="translate(618.30,92.30) scale(1.0)">
<path d="M30.02,-4.85 L30.68,-1.28 L30.98,1.61 L31.04,4.29 L30.87,6.83 L30.47,9.25 L29.86,11.57 L29.03,13.77 L27.99,15.87 L26.75,17.85 L25.31,19.71 L23.66,21.44 L21.83,23.04 L19.79,24.50 L17.57,25.82 L15.13,27.01 L12.46,28.05 L9.49,28.97 L5.71,29.87 L1.89,30.58 L-1.20,30.96 L-4.06,31.09 L-6.77,31.00 L-9.34,30.69 L-11.79,30.18 L-14.12,29.47 L-16.33,28.56 L-18.40,27.45 L-20.34,26.14 L-22.14,24.65 L-23.80,22.97 L-25.30,21.11 L-26.65,19.06 L-27.84,16.81 L-28.88,14.33 L-29.77,11.57 L-30.62,8.05 L-31.28,4.48 L-31.58,1.59 L-31.64,-1.09 L-31.47,-3.63 L-31.07,-6.05 L-30.46,-8.37 L-29.63,-10.57 L-28.59,-12.67 L-27.35,-14.65 L-25.91,-16.51 L-24.26,-18.24 L-22.43,-19.84 L-20.39,-21.30 L-18.17,-22.62 L-15.73,-23.81 L-13.06,-24.85 L-10.09,-25.77 L-6.31,-26.67 L-2.49,-27.38 L0.60,-27.76 L3.46,-27.89 L6.17,-27.80 L8.74,-27.49 L11.19,-26.98 L13.52,-26.27 L15.73,-25.36 L17.80,-24.25 L19.74,-22.94 L21.54,-21.45 L23.20,-19.77 L24.70,-17.91 L26.05,-15.86 L27.24,-13.61 L28.28,-11.13 L29.17,-8.37 Z" fill="#fff" stroke="#808080" stroke-width="3.3"/>
<path d="M17.95,4.93 L18.88,6.03 L19.56,7.01 L20.11,7.97 L20.54,8.95 L20.86,9.95 L21.07,10.96 L21.17,11.99 L21.17,13.02 L21.07,14.07 L20.86,15.12 L20.54,16.17 L20.12,17.22 L19.60,18.27 L18.98,19.31 L18.24,20.34 L17.39,21.37 L16.40,22.42 L15.13,23.62 L13.80,24.76 L12.66,25.63 L11.54,26.37 L10.44,26.99 L9.34,27.51 L8.25,27.92 L7.16,28.22 L6.08,28.43 L5.01,28.52 L3.96,28.52 L2.93,28.41 L1.92,28.20 L0.94,27.89 L-0.02,27.46 L-0.95,26.93 L-1.85,26.29 L-2.75,25.51 L-3.75,24.47 L-4.68,23.37 L-5.36,22.39 L-5.91,21.43 L-6.34,20.45 L-6.66,19.45 L-6.87,18.44 L-6.97,17.41 L-6.97,16.38 L-6.87,15.33 L-6.66,14.28 L-6.34,13.23 L-5.92,12.18 L-5.40,11.13 L-4.78,10.09 L-4.04,9.06 L-3.19,8.03 L-2.20,6.98 L-0.93,5.78 L0.40,4.64 L1.54,3.77 L2.66,3.03 L3.76,2.41 L4.86,1.89 L5.95,1.48 L7.04,1.18 L8.12,0.97 L9.19,0.88 L10.24,0.88 L11.27,0.99 L12.28,1.20 L13.26,1.51 L14.22,1.94 L15.15,2.47 L16.05,3.11 L16.95,3.89 Z" fill="#d9d9d9" stroke="#808080" stroke-width="2.3"/>
<polyline points="-8.05,-38.40 -10.45,-35.83 -5.65,-33.26 -10.45,-30.69 -5.65,-28.11 -10.45,-25.54 -5.65,-22.97 -8.05,-20.40" fill="none" stroke="#111" stroke-width="1.3"/>
<rect x="-14.6" y="-19.9" width="10.4" height="13.0" rx="3.4" fill="#f6c5cc" stroke="#cc3340" stroke-width="1.2"/>
<rect x="-14.6" y="-6.6" width="10.4" height="13.1" rx="3.4" fill="#f6c5cc" stroke="#cc3340" stroke-width="1.2"/>
<ellipse cx="-6.6" cy="-47.6" rx="4.0" ry="7.0" transform="rotate(28 -6.6 -47.6)" fill="none" stroke="#ea6a74" stroke-width="0.8"/>
<ellipse cx="-10.9" cy="-45.2" rx="4.4" ry="7.3" transform="rotate(-14 -10.9 -45.2)" fill="#ec3340" stroke="#fff" stroke-width="0.4"/>
<ellipse cx="-3.0" cy="-44.3" rx="3.8" ry="6.9" transform="rotate(14 -3.0 -44.3)" fill="#ec3340" stroke="#fff" stroke-width="0.7"/>
<polyline points="15.00,-29.00 11.99,-27.76 16.51,-24.54 10.99,-23.96 15.51,-20.74 9.99,-20.16 14.51,-16.94 11.50,-15.70" fill="none" stroke="#111" stroke-width="1.3"/>
<rect x="2.4" y="-15.6" width="11.2" height="11.8" rx="3.2" transform="rotate(22 8 -9.7)" fill="#d4e6fb" stroke="#2c5cb0" stroke-width="1.2"/>
<path d="M19.60,-38.84 L15.15,-46.11 A8.9,8.9 0 1 0 24.05,-46.11 Z" fill="#2262c0" stroke="#1a4b98" stroke-width="1.0" transform="rotate(28 19.60 -38.40)"/>
</g>
<path d="M762.74,86.34 L763.62,89.27 L764.23,91.78 L764.66,94.16 L764.92,96.45 L765.02,98.66 L764.96,100.78 L764.75,102.82 L764.38,104.76 L763.86,106.61 L763.20,108.35 L762.38,109.97 L761.43,111.47 L760.33,112.85 L759.09,114.09 L757.71,115.20 L756.17,116.17 L754.45,117.02 L752.35,117.79 L750.19,118.40 L748.31,118.73 L746.49,118.84 L744.72,118.76 L742.99,118.48 L741.29,118.02 L739.64,117.36 L738.03,116.53 L736.46,115.51 L734.96,114.32 L733.52,112.97 L732.15,111.44 L730.86,109.76 L729.64,107.92 L728.51,105.91 L727.45,103.73 L726.47,101.34 L725.46,98.46 L724.58,95.53 L723.97,93.02 L723.54,90.64 L723.28,88.35 L723.18,86.14 L723.24,84.02 L723.45,81.98 L723.82,80.04 L724.34,78.19 L725.00,76.45 L725.82,74.83 L726.77,73.33 L727.87,71.95 L729.11,70.71 L730.49,69.60 L732.03,68.63 L733.75,67.78 L735.85,67.01 L738.01,66.40 L739.89,66.07 L741.71,65.96 L743.48,66.04 L745.21,66.32 L746.91,66.78 L748.56,67.44 L750.17,68.27 L751.74,69.29 L753.24,70.48 L754.68,71.83 L756.05,73.36 L757.34,75.04 L758.56,76.88 L759.69,78.89 L760.75,81.07 L761.73,83.46 Z" fill="#c6e4fb" stroke="#3b9aef" stroke-width="1.9"/><ellipse cx="752.50" cy="94.70" rx="9" ry="14.5" transform="rotate(-15 752.50 94.70)" fill="#3a8ff0"/>
<path d="M726.29,83.23 L726.54,86.27 L726.60,88.86 L726.50,91.28 L726.25,93.57 L725.85,95.76 L725.31,97.83 L724.63,99.78 L723.81,101.61 L722.85,103.32 L721.77,104.88 L720.56,106.31 L719.23,107.59 L717.78,108.72 L716.21,109.69 L714.53,110.49 L712.72,111.14 L710.75,111.62 L708.39,111.95 L706.02,112.11 L703.99,112.05 L702.08,111.80 L700.27,111.36 L698.54,110.74 L696.88,109.94 L695.32,108.97 L693.84,107.82 L692.45,106.51 L691.16,105.04 L689.98,103.42 L688.90,101.65 L687.94,99.74 L687.10,97.69 L686.38,95.49 L685.78,93.15 L685.30,90.60 L684.91,87.57 L684.66,84.53 L684.60,81.94 L684.70,79.52 L684.95,77.23 L685.35,75.04 L685.89,72.97 L686.57,71.02 L687.39,69.19 L688.35,67.48 L689.43,65.92 L690.64,64.49 L691.97,63.21 L693.42,62.08 L694.99,61.11 L696.67,60.31 L698.48,59.66 L700.45,59.18 L702.81,58.85 L705.18,58.69 L707.21,58.75 L709.12,59.00 L710.93,59.44 L712.66,60.06 L714.32,60.86 L715.88,61.83 L717.36,62.98 L718.75,64.29 L720.04,65.76 L721.22,67.38 L722.30,69.15 L723.26,71.06 L724.10,73.11 L724.82,75.31 L725.42,77.65 L725.90,80.20 Z" fill="#c6e4fb" stroke="#3b9aef" stroke-width="1.9"/><ellipse cx="716.20" cy="89.80" rx="8.7" ry="14.8" transform="rotate(-10 716.20 89.80)" fill="#3a8ff0"/>
<text x="684.0" y="41.8" font-size="13.8" fill="#3f8fe0">ADR targets</text>
<text x="668.2" y="145.6" font-size="13.8" fill="#111">1:2</text>
<path d="M632.70,136.90 C644.00,140.00 654.00,150.00 655.75,161.56" fill="none" stroke="#111" stroke-width="1.4"/><polygon points="656.50,166.50 651.37,160.00 655.69,161.16 659.48,158.77" fill="#111"/>
<path d="M719.10,135.30 C707.00,135.50 698.00,148.00 696.58,162.82" fill="none" stroke="#111" stroke-width="1.4"/><polygon points="696.10,167.80 692.71,160.24 696.62,162.42 700.87,161.02" fill="#111"/>
<defs><linearGradient id="lidc" x1="0" y1="0" x2="1" y2="0"><stop offset="0" stop-color="#dedede"/><stop offset="0.6" stop-color="#ffffff"/><stop offset="1" stop-color="#e8e8e8"/></linearGradient><radialGradient id="watc" cx="0.5" cy="0.45" r="0.55"><stop offset="0" stop-color="#c6e0f3"/><stop offset="0.55" stop-color="#b0d3ec"/><stop offset="1" stop-color="#7fb3dc"/></radialGradient><linearGradient id="walc" x1="0" y1="0" x2="1" y2="0"><stop offset="0" stop-color="#cfcfcf"/><stop offset="0.15" stop-color="#f2f2f2"/><stop offset="0.85" stop-color="#f2f2f2"/><stop offset="1" stop-color="#cfcfcf"/></linearGradient></defs>
<path d="M642.30,185.05 L642.30,208.45 A33.7,6.2 0 0 0 709.70,208.45 L709.70,185.05 Z" fill="url(#walc)" stroke="none"/>
<path d="M642.90,200.24 L642.90,208.45 A33.1,6.2 0 0 0 709.10,208.45 L709.10,200.24 Z" fill="#8ebfe2"/>
<path d="M642.90,193.11 L642.90,204.52 A33.1,7.13 0 0 0 709.10,204.52 L709.10,193.11 Z" fill="#8fbfe2"/>
<ellipse cx="676.00" cy="195.25" rx="33.10" ry="7.13" fill="url(#watc)"/>
<circle cx="658.60" cy="202.10" r="9.6" fill="#fff" stroke="#858585" stroke-width="1.2"/>
<ellipse cx="655.00" cy="206.00" rx="4.6" ry="3.9" transform="rotate(-20 655.00 206.00)" fill="#dcdcdc" stroke="#777" stroke-width="0.8"/>
<rect x="655.40" y="196.90" width="4.2" height="3.2" rx="0.9" transform="rotate(-22 657.50 198.50)" fill="#f3b8c0" stroke="#d86070" stroke-width="0.7"/>
<rect x="659.80" y="195.40" width="4.2" height="3.2" rx="0.9" transform="rotate(-22 661.90 197.00)" fill="#f3b8c0" stroke="#d86070" stroke-width="0.7"/>
<line x1="664.20" y1="197.10" x2="670.60" y2="195.40" stroke="#222" stroke-width="0.8"/>
<rect x="661.20" y="201.60" width="3.9" height="3.9" rx="0.8" fill="#d5e8fb" stroke="#4a78c8" stroke-width="0.7"/>
<line x1="664.90" y1="203.70" x2="671.10" y2="204.00" stroke="#222" stroke-width="0.9"/>
<path d="M672.80,194.61 L671.42,192.80 A2.6,2.6 0 1 0 674.18,192.80 Z" fill="#e03040" stroke="none" stroke-width="0" transform="rotate(90 672.80 195.00)"/>
<path d="M673.50,203.76 L671.96,201.74 A2.9,2.9 0 1 0 675.04,201.74 Z" fill="#2160bd" stroke="none" stroke-width="0" transform="rotate(90 673.50 204.20)"/><ellipse cx="691.30" cy="204.70" rx="12" ry="8.9" fill="#c6e4fb" stroke="#3b9aef" stroke-width="1"/><ellipse cx="689.10" cy="208.80" rx="6" ry="3.5" fill="#3a8ff0"/>
<ellipse cx="676.00" cy="185.05" rx="33.7" ry="6.2" fill="url(#lidc)" stroke="#4a4a4a" stroke-width="1"/>
<path d="M642.30,185.05 L642.30,208.45 A33.7,6.2 0 0 0 709.70,208.45 L709.70,185.05" fill="none" stroke="#4a4a4a" stroke-width="1"/>
<g transform="translate(71.60,421.00) scale(1.0)">
<path d="M30.02,-4.85 L30.68,-1.28 L30.98,1.61 L31.04,4.29 L30.87,6.83 L30.47,9.25 L29.86,11.57 L29.03,13.77 L27.99,15.87 L26.75,17.85 L25.31,19.71 L23.66,21.44 L21.83,23.04 L19.79,24.50 L17.57,25.82 L15.13,27.01 L12.46,28.05 L9.49,28.97 L5.71,29.87 L1.89,30.58 L-1.20,30.96 L-4.06,31.09 L-6.77,31.00 L-9.34,30.69 L-11.79,30.18 L-14.12,29.47 L-16.33,28.56 L-18.40,27.45 L-20.34,26.14 L-22.14,24.65 L-23.80,22.97 L-25.30,21.11 L-26.65,19.06 L-27.84,16.81 L-28.88,14.33 L-29.77,11.57 L-30.62,8.05 L-31.28,4.48 L-31.58,1.59 L-31.64,-1.09 L-31.47,-3.63 L-31.07,-6.05 L-30.46,-8.37 L-29.63,-10.57 L-28.59,-12.67 L-27.35,-14.65 L-25.91,-16.51 L-24.26,-18.24 L-22.43,-19.84 L-20.39,-21.30 L-18.17,-22.62 L-15.73,-23.81 L-13.06,-24.85 L-10.09,-25.77 L-6.31,-26.67 L-2.49,-27.38 L0.60,-27.76 L3.46,-27.89 L6.17,-27.80 L8.74,-27.49 L11.19,-26.98 L13.52,-26.27 L15.73,-25.36 L17.80,-24.25 L19.74,-22.94 L21.54,-21.45 L23.20,-19.77 L24.70,-17.91 L26.05,-15.86 L27.24,-13.61 L28.28,-11.13 L29.17,-8.37 Z" fill="#fff" stroke="#808080" stroke-width="3.3"/>
<path d="M17.95,4.93 L18.88,6.03 L19.56,7.01 L20.11,7.97 L20.54,8.95 L20.86,9.95 L21.07,10.96 L21.17,11.99 L21.17,13.02 L21.07,14.07 L20.86,15.12 L20.54,16.17 L20.12,17.22 L19.60,18.27 L18.98,19.31 L18.24,20.34 L17.39,21.37 L16.40,22.42 L15.13,23.62 L13.80,24.76 L12.66,25.63 L11.54,26.37 L10.44,26.99 L9.34,27.51 L8.25,27.92 L7.16,28.22 L6.08,28.43 L5.01,28.52 L3.96,28.52 L2.93,28.41 L1.92,28.20 L0.94,27.89 L-0.02,27.46 L-0.95,26.93 L-1.85,26.29 L-2.75,25.51 L-3.75,24.47 L-4.68,23.37 L-5.36,22.39 L-5.91,21.43 L-6.34,20.45 L-6.66,19.45 L-6.87,18.44 L-6.97,17.41 L-6.97,16.38 L-6.87,15.33 L-6.66,14.28 L-6.34,13.23 L-5.92,12.18 L-5.40,11.13 L-4.78,10.09 L-4.04,9.06 L-3.19,8.03 L-2.20,6.98 L-0.93,5.78 L0.40,4.64 L1.54,3.77 L2.66,3.03 L3.76,2.41 L4.86,1.89 L5.95,1.48 L7.04,1.18 L8.12,0.97 L9.19,0.88 L10.24,0.88 L11.27,0.99 L12.28,1.20 L13.26,1.51 L14.22,1.94 L15.15,2.47 L16.05,3.11 L16.95,3.89 Z" fill="#d9d9d9" stroke="#808080" stroke-width="2.3"/>
<polyline points="-8.05,-38.40 -10.45,-35.83 -5.65,-33.26 -10.45,-30.69 -5.65,-28.11 -10.45,-25.54 -5.65,-22.97 -8.05,-20.40" fill="none" stroke="#111" stroke-width="1.3"/>
<rect x="-14.6" y="-19.9" width="10.4" height="13.0" rx="3.4" fill="#f6c5cc" stroke="#cc3340" stroke-width="1.2"/>
<rect x="-14.6" y="-6.6" width="10.4" height="13.1" rx="3.4" fill="#f6c5cc" stroke="#cc3340" stroke-width="1.2"/>
<ellipse cx="-6.6" cy="-47.6" rx="4.0" ry="7.0" transform="rotate(28 -6.6 -47.6)" fill="none" stroke="#ea6a74" stroke-width="0.8"/>
<ellipse cx="-10.9" cy="-45.2" rx="4.4" ry="7.3" transform="rotate(-14 -10.9 -45.2)" fill="#ec3340" stroke="#fff" stroke-width="0.4"/>
<ellipse cx="-3.0" cy="-44.3" rx="3.8" ry="6.9" transform="rotate(14 -3.0 -44.3)" fill="#ec3340" stroke="#fff" stroke-width="0.7"/>
<polyline points="15.00,-29.00 11.99,-27.76 16.51,-24.54 10.99,-23.96 15.51,-20.74 9.99,-20.16 14.51,-16.94 11.50,-15.70" fill="none" stroke="#111" stroke-width="1.3"/>
<rect x="2.4" y="-15.6" width="11.2" height="11.8" rx="3.2" transform="rotate(22 8 -9.7)" fill="#d4e6fb" stroke="#2c5cb0" stroke-width="1.2"/>
<path d="M19.60,-38.84 L15.15,-46.11 A8.9,8.9 0 1 0 24.05,-46.11 Z" fill="#2262c0" stroke="#1a4b98" stroke-width="1.0" transform="rotate(28 19.60 -38.40)"/>
</g>
<path d="M165.82,389.98 L165.49,392.98 L165.06,395.50 L164.51,397.83 L163.84,400.02 L163.05,402.06 L162.14,403.97 L161.12,405.73 L159.98,407.36 L158.74,408.83 L157.40,410.15 L155.97,411.31 L154.45,412.30 L152.84,413.12 L151.15,413.77 L149.38,414.24 L147.52,414.52 L145.53,414.61 L143.20,414.50 L140.88,414.21 L138.94,413.77 L137.16,413.17 L135.49,412.40 L133.94,411.47 L132.50,410.38 L131.17,409.14 L129.96,407.75 L128.87,406.22 L127.91,404.55 L127.08,402.76 L126.37,400.84 L125.81,398.80 L125.38,396.65 L125.10,394.39 L124.97,391.99 L124.98,389.43 L125.18,386.42 L125.51,383.42 L125.94,380.90 L126.49,378.57 L127.16,376.38 L127.95,374.34 L128.86,372.43 L129.88,370.67 L131.02,369.04 L132.26,367.57 L133.60,366.25 L135.03,365.09 L136.55,364.10 L138.16,363.28 L139.85,362.63 L141.62,362.16 L143.48,361.88 L145.47,361.79 L147.80,361.90 L150.12,362.19 L152.06,362.63 L153.84,363.23 L155.51,364.00 L157.06,364.93 L158.50,366.02 L159.83,367.26 L161.04,368.65 L162.13,370.18 L163.09,371.85 L163.92,373.64 L164.63,375.56 L165.19,377.60 L165.62,379.75 L165.90,382.01 L166.03,384.41 L166.02,386.97 Z" fill="#f6c295" stroke="#e8611a" stroke-width="1.9"/><ellipse cx="154.40" cy="382.30" rx="8.8" ry="14.7" transform="rotate(-10 154.40 382.30)" fill="#ef4c00"/>
<path d="M233.22,417.95 L232.88,420.97 L232.44,423.51 L231.88,425.86 L231.19,428.06 L230.37,430.12 L229.43,432.04 L228.37,433.81 L227.20,435.45 L225.92,436.93 L224.53,438.26 L223.04,439.42 L221.46,440.42 L219.80,441.24 L218.04,441.89 L216.20,442.35 L214.27,442.63 L212.20,442.72 L209.78,442.60 L207.38,442.30 L205.36,441.85 L203.50,441.24 L201.77,440.46 L200.15,439.52 L198.65,438.42 L197.27,437.17 L196.01,435.76 L194.88,434.22 L193.87,432.53 L193.00,430.72 L192.26,428.78 L191.67,426.73 L191.22,424.56 L190.92,422.28 L190.78,419.87 L190.79,417.29 L190.98,414.25 L191.32,411.23 L191.76,408.69 L192.32,406.34 L193.01,404.14 L193.83,402.08 L194.77,400.16 L195.83,398.39 L197.00,396.75 L198.28,395.27 L199.67,393.94 L201.16,392.78 L202.74,391.78 L204.40,390.96 L206.16,390.31 L208.00,389.85 L209.93,389.57 L212.00,389.48 L214.42,389.60 L216.82,389.90 L218.84,390.35 L220.70,390.96 L222.43,391.74 L224.05,392.68 L225.55,393.78 L226.93,395.03 L228.19,396.44 L229.32,397.98 L230.33,399.67 L231.20,401.48 L231.94,403.42 L232.53,405.47 L232.98,407.64 L233.28,409.92 L233.42,412.33 L233.41,414.91 Z" fill="#c6e4fb" stroke="#3b9aef" stroke-width="1.9"/><ellipse cx="203.10" cy="410.10" rx="9.5" ry="14.7" transform="rotate(10 203.10 410.10)" fill="#3a8ff0"/>
<text x="126.2" y="454.8" font-size="13.2" fill="#111">1:1:1</text>
<path d="M82.40,471.90 C94.00,476.00 104.00,486.00 106.15,497.09" fill="none" stroke="#111" stroke-width="1.4"/><polygon points="107.10,502.00 101.71,495.71 106.07,496.70 109.76,494.15" fill="#111"/>
<line x1="140.7" y1="461.4" x2="140.7" y2="497" stroke="#111" stroke-width="1.5"/><polygon points="140.70,502.00 136.60,494.80 140.70,496.60 144.80,494.80" fill="#111"/>
<path d="M195.50,469.60 C184.00,470.00 175.00,484.00 173.55,497.03" fill="none" stroke="#111" stroke-width="1.4"/><polygon points="173.00,502.00 169.72,494.39 173.60,496.63 177.87,495.30" fill="#111"/>
<defs><linearGradient id="lidd" x1="0" y1="0" x2="1" y2="0"><stop offset="0" stop-color="#dedede"/><stop offset="0.6" stop-color="#ffffff"/><stop offset="1" stop-color="#e8e8e8"/></linearGradient><radialGradient id="watd" cx="0.5" cy="0.45" r="0.55"><stop offset="0" stop-color="#c6e0f3"/><stop offset="0.55" stop-color="#b0d3ec"/><stop offset="1" stop-color="#7fb3dc"/></radialGradient><linearGradient id="wald" x1="0" y1="0" x2="1" y2="0"><stop offset="0" stop-color="#cfcfcf"/><stop offset="0.15" stop-color="#f2f2f2"/><stop offset="0.85" stop-color="#f2f2f2"/><stop offset="1" stop-color="#cfcfcf"/></linearGradient></defs>
<path d="M96.40,523.70 L96.40,549.20 A47.75,7.8 0 0 0 191.90,549.20 L191.90,523.70 Z" fill="url(#wald)" stroke="none"/>
<path d="M97.00,542.81 L97.00,549.20 A47.15,7.8 0 0 0 191.30,549.20 L191.30,542.81 Z" fill="#8ebfe2"/>
<path d="M97.00,533.84 L97.00,548.19 A47.15,8.969999999999999 0 0 0 191.30,548.19 L191.30,533.84 Z" fill="#8fbfe2"/>
<ellipse cx="144.15" cy="536.53" rx="47.15" ry="8.97" fill="url(#watd)"/>
<circle cx="114.00" cy="542.30" r="9.8" fill="#fff" stroke="#858585" stroke-width="1.2"/>
<ellipse cx="110.40" cy="546.20" rx="4.6" ry="3.9" transform="rotate(-20 110.40 546.20)" fill="#dcdcdc" stroke="#777" stroke-width="0.8"/>
<rect x="110.80" y="537.10" width="4.2" height="3.2" rx="0.9" transform="rotate(-22 112.90 538.70)" fill="#f3b8c0" stroke="#d86070" stroke-width="0.7"/>
<rect x="115.20" y="535.60" width="4.2" height="3.2" rx="0.9" transform="rotate(-22 117.30 537.20)" fill="#f3b8c0" stroke="#d86070" stroke-width="0.7"/>
<line x1="119.60" y1="537.30" x2="126.00" y2="535.60" stroke="#222" stroke-width="0.8"/>
<rect x="116.60" y="541.80" width="3.9" height="3.9" rx="0.8" fill="#d5e8fb" stroke="#4a78c8" stroke-width="0.7"/>
<line x1="120.30" y1="543.90" x2="126.50" y2="544.20" stroke="#222" stroke-width="0.9"/>
<path d="M128.20,534.81 L126.82,533.00 A2.6,2.6 0 1 0 129.58,533.00 Z" fill="#e03040" stroke="none" stroke-width="0" transform="rotate(90 128.20 535.20)"/>
<path d="M128.90,543.97 L127.36,541.94 A2.9,2.9 0 1 0 130.44,541.94 Z" fill="#2160bd" stroke="none" stroke-width="0" transform="rotate(90 128.90 544.40)"/><ellipse cx="145.85" cy="543.55" rx="11.75" ry="9.55" fill="#f6c295" stroke="#e8611a" stroke-width="1"/><ellipse cx="148.30" cy="548.20" rx="6.4" ry="3.9" fill="#ef4c00"/><ellipse cx="168.35" cy="543.05" rx="11.75" ry="9.05" fill="#c6e4fb" stroke="#3b9aef" stroke-width="1"/><ellipse cx="165.90" cy="547.20" rx="6" ry="3.8" fill="#3a8ff0"/>
<ellipse cx="144.15" cy="523.70" rx="47.75" ry="7.8" fill="url(#lidd)" stroke="#4a4a4a" stroke-width="1"/>
<path d="M96.40,523.70 L96.40,549.20 A47.75,7.8 0 0 0 191.90,549.20 L191.90,523.70" fill="none" stroke="#4a4a4a" stroke-width="1"/>
<text x="14.2" y="21.6" font-size="16.5" font-weight="bold" fill="#000">b</text>
<text x="582.6" y="20.8" font-size="16.5" font-weight="bold" fill="#000">c</text>
<text x="14.3" y="340.8" font-size="16.5" font-weight="bold" fill="#000">d</text>
</svg></body></html>
